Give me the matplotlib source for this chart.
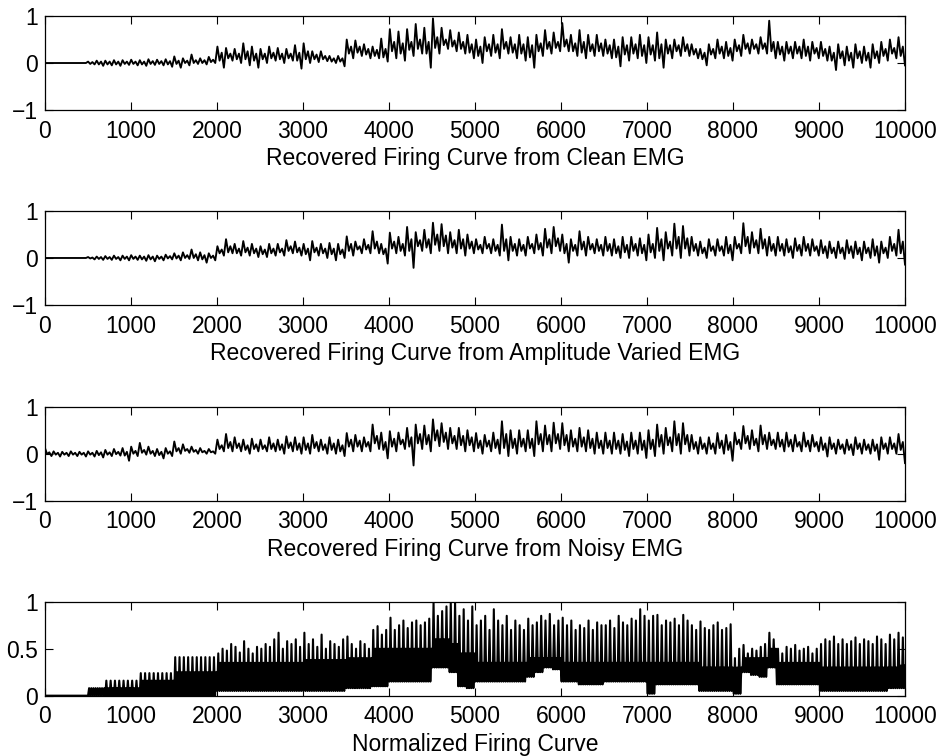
import numpy as np
import matplotlib
matplotlib.use("Agg")
import matplotlib.pyplot as plt

plt.rcParams["font.family"] = ["Liberation Sans", "DejaVu Sans"]
plt.rcParams["font.size"] = 16.5

# samples 0..10000, read per 100-sample bin:
# *_hi / *_lo = extremes, *_chi / *_clo = the dense core of the trace
clean_hi = [0, 0, 0, 0, 0, 0.03, 0.05, 0.05, 0.06, 0.06,
            0.07, 0.06, 0.08, 0.07, 0.08, 0.14, 0.1, 0.18, 0.1, 0.13,
            0.35, 0.32, 0.3, 0.42, 0.35, 0.3, 0.35, 0.32, 0.3, 0.38,
            0.42, 0.25, 0.25, 0.15, 0.15, 0.5, 0.48, 0.4, 0.35, 0.52,
            0.72, 0.67, 0.72, 0.83, 0.75, 0.95, 0.75, 0.7, 0.65, 0.6,
            0.5, 0.55, 0.6, 0.72, 0.55, 0.6, 0.55, 0.6, 0.7, 0.65,
            0.85, 0.6, 0.7, 0.6, 0.6, 0.5, 0.5, 0.55, 0.55, 0.6,
            0.55, 0.65, 0.5, 0.5, 0.55, 0.4, 0.3, 0.4, 0.5, 0.45,
            0.5, 0.6, 0.5, 0.55, 0.9, 0.45, 0.45, 0.45, 0.5, 0.45,
            0.45, 0.35, 0.4, 0.35, 0.4, 0.35, 0.4, 0.45, 0.5, 0.55]
clean_lo = [0, 0, 0, 0, 0, -0.03, -0.06, -0.05, -0.06, -0.04,
            -0.05, -0.06, -0.04, -0.05, -0.08, -0.1, -0.05, -0.02, -0.03, 0.0,
            -0.1, 0.05, 0.0, -0.05, -0.1, 0.0, 0.05, 0.0, 0.05, -0.12,
            0.0, 0.02, 0.04, 0.0, -0.07, 0.1, 0.15, 0.1, 0.1, 0.03,
            0.1, 0.05, 0.15, 0.2, -0.1, 0.2, 0.3, 0.25, 0.2, 0.1,
            0.0, 0.15, 0.1, 0.2, 0.1, 0.05, -0.1, 0.15, 0.2, 0.25,
            0.25, 0.15, 0.1, 0.15, 0.15, 0.1, -0.07, 0.05, 0.1, 0.0,
            0.05, -0.1, 0.1, 0.15, 0.15, 0.1, -0.05, 0.1, 0.1, 0.05,
            0.15, 0.2, 0.2, 0.2, 0.1, 0.05, 0.1, 0.1, 0.05, 0.1,
            0.05, -0.15, -0.05, -0.1, 0.0, -0.1, 0.0, 0.05, 0.1, -0.05]
clean_chi = [0, 0, 0, 0, 0, 0.02, 0.03, 0.03, 0.03, 0.03,
             0.03, 0.03, 0.04, 0.04, 0.04, 0.05, 0.05, 0.06, 0.06, 0.07,
             0.22, 0.2, 0.2, 0.25, 0.2, 0.2, 0.22, 0.2, 0.2, 0.22,
             0.25, 0.18, 0.15, 0.1, 0.1, 0.35, 0.35, 0.3, 0.28, 0.3,
             0.45, 0.42, 0.45, 0.5, 0.45, 0.55, 0.5, 0.48, 0.45, 0.4,
             0.35, 0.4, 0.4, 0.45, 0.4, 0.4, 0.38, 0.42, 0.45, 0.45,
             0.5, 0.42, 0.45, 0.4, 0.42, 0.38, 0.35, 0.38, 0.4, 0.38,
             0.38, 0.4, 0.38, 0.38, 0.4, 0.3, 0.22, 0.3, 0.35, 0.32,
             0.38, 0.42, 0.4, 0.42, 0.45, 0.35, 0.35, 0.35, 0.35, 0.32,
             0.3, 0.22, 0.25, 0.22, 0.25, 0.22, 0.25, 0.3, 0.32, 0.35]
clean_clo = [0, 0, 0, 0, 0, -0.02, -0.03, -0.03, -0.03, -0.02,
             -0.02, -0.03, -0.02, -0.02, -0.03, -0.02, 0.0, 0.0, 0.0, 0.02,
             0.05, 0.1, 0.08, 0.08, 0.05, 0.08, 0.1, 0.08, 0.1, 0.05,
             0.08, 0.08, 0.08, 0.03, 0.03, 0.2, 0.22, 0.18, 0.15, 0.12,
             0.25, 0.2, 0.28, 0.3, 0.2, 0.32, 0.38, 0.35, 0.3, 0.22,
             0.15, 0.25, 0.22, 0.3, 0.22, 0.2, 0.12, 0.25, 0.3, 0.32,
             0.35, 0.25, 0.22, 0.25, 0.25, 0.2, 0.12, 0.18, 0.2, 0.15,
             0.18, 0.1, 0.2, 0.25, 0.25, 0.18, 0.08, 0.18, 0.2, 0.15,
             0.25, 0.3, 0.3, 0.3, 0.25, 0.18, 0.2, 0.2, 0.15, 0.2,
             0.15, 0.05, 0.1, 0.05, 0.1, 0.05, 0.1, 0.15, 0.2, 0.15]

ampvar_hi = [0, 0, 0, 0, 0, 0.02, 0.03, 0.04, 0.05, 0.05,
             0.06, 0.05, 0.06, 0.05, 0.07, 0.1, 0.12, 0.18, 0.12, 0.1,
             0.25, 0.4, 0.3, 0.36, 0.3, 0.25, 0.3, 0.3, 0.38, 0.35,
             0.3, 0.36, 0.3, 0.32, 0.3, 0.46, 0.35, 0.4, 0.57, 0.3,
             0.54, 0.45, 0.66, 0.55, 0.6, 0.75, 0.72, 0.55, 0.6, 0.5,
             0.4, 0.45, 0.4, 0.71, 0.45, 0.4, 0.45, 0.5, 0.62, 0.66,
             0.5, 0.4, 0.57, 0.45, 0.4, 0.45, 0.4, 0.45, 0.45, 0.42,
             0.5, 0.64, 0.55, 0.73, 0.68, 0.45, 0.35, 0.4, 0.4, 0.45,
             0.45, 0.74, 0.55, 0.62, 0.45, 0.45, 0.4, 0.42, 0.45, 0.4,
             0.38, 0.35, 0.35, 0.38, 0.35, 0.35, 0.4, 0.35, 0.45, 0.6]
ampvar_lo = [0, 0, 0, 0, 0, -0.03, -0.04, -0.04, -0.05, -0.05,
             -0.04, -0.06, -0.07, -0.05, -0.03, -0.05, -0.02, -0.05, -0.1, -0.05,
             0.05, 0.1, 0.05, 0.05, 0.02, 0.02, 0.05, 0.05, 0.1, 0.05,
             -0.05, 0.05, 0.0, -0.05, 0.0, 0.05, 0.1, 0.1, 0.1, -0.12,
             0.1, 0.05, -0.21, 0.15, 0.1, 0.15, 0.1, 0.1, 0.05, 0.1,
             0.1, 0.1, 0.05, -0.05, 0.05, 0.05, 0.1, 0.05, 0.1, 0.15,
             -0.1, 0.05, 0.05, 0.1, 0.05, 0.05, 0.0, 0.0, 0.05, -0.05,
             0.0, -0.05, 0.05, 0.0, 0.05, 0.05, 0.0, 0.05, 0.05, -0.05,
             0.1, 0.1, 0.1, 0.05, 0.05, 0.05, 0.0, 0.05, 0.05, 0.05,
             0.0, 0.0, -0.02, 0.0, -0.05, 0.0, -0.1, 0.0, 0.05, -0.14]
ampvar_chi = [0, 0, 0, 0, 0, 0.01, 0.02, 0.02, 0.02, 0.03,
              0.03, 0.03, 0.03, 0.03, 0.04, 0.05, 0.06, 0.08, 0.06, 0.05,
              0.18, 0.25, 0.2, 0.22, 0.2, 0.18, 0.2, 0.2, 0.25, 0.22,
              0.2, 0.22, 0.2, 0.2, 0.18, 0.3, 0.25, 0.28, 0.35, 0.2,
              0.35, 0.3, 0.4, 0.38, 0.4, 0.5, 0.48, 0.38, 0.4, 0.35,
              0.28, 0.3, 0.28, 0.4, 0.3, 0.28, 0.3, 0.32, 0.4, 0.42,
              0.3, 0.28, 0.35, 0.3, 0.28, 0.3, 0.25, 0.28, 0.3, 0.28,
              0.3, 0.4, 0.35, 0.45, 0.42, 0.3, 0.22, 0.25, 0.25, 0.28,
              0.3, 0.45, 0.38, 0.4, 0.3, 0.3, 0.25, 0.28, 0.3, 0.25,
              0.25, 0.22, 0.22, 0.25, 0.22, 0.22, 0.25, 0.22, 0.3, 0.35]
ampvar_clo = [0, 0, 0, 0, 0, -0.01, -0.02, -0.02, -0.02, -0.02,
              -0.02, -0.03, -0.03, -0.02, -0.01, -0.01, 0.0, 0.0, -0.03, 0.0,
              0.1, 0.12, 0.1, 0.12, 0.1, 0.08, 0.1, 0.12, 0.15, 0.12,
              0.08, 0.12, 0.1, 0.08, 0.08, 0.15, 0.18, 0.18, 0.2, 0.08,
              0.2, 0.15, 0.15, 0.25, 0.22, 0.28, 0.25, 0.22, 0.2, 0.2,
              0.18, 0.2, 0.15, 0.15, 0.15, 0.15, 0.2, 0.18, 0.22, 0.25,
              0.1, 0.15, 0.18, 0.18, 0.15, 0.15, 0.1, 0.12, 0.15, 0.1,
              0.12, 0.15, 0.2, 0.2, 0.2, 0.15, 0.1, 0.15, 0.15, 0.1,
              0.2, 0.25, 0.22, 0.2, 0.15, 0.15, 0.12, 0.15, 0.15, 0.15,
              0.1, 0.1, 0.1, 0.1, 0.08, 0.1, 0.05, 0.1, 0.15, 0.1]

noisy_hi = [0.12, 0.05, 0.04, 0.05, 0.04, 0.05, 0.06, 0.08, 0.1, 0.12,
            0.15, 0.23, 0.15, 0.1, 0.12, 0.26, 0.2, 0.15, 0.12, 0.1,
            0.3, 0.42, 0.35, 0.3, 0.32, 0.3, 0.35, 0.3, 0.37, 0.35,
            0.35, 0.4, 0.3, 0.35, 0.3, 0.44, 0.4, 0.35, 0.62, 0.45,
            0.48, 0.45, 0.55, 0.62, 0.6, 0.73, 0.65, 0.55, 0.55, 0.5,
            0.44, 0.4, 0.45, 0.69, 0.5, 0.5, 0.5, 0.69, 0.6, 0.66,
            0.65, 0.5, 0.55, 0.5, 0.45, 0.45, 0.45, 0.42, 0.45, 0.45,
            0.5, 0.62, 0.55, 0.69, 0.65, 0.4, 0.35, 0.35, 0.44, 0.4,
            0.45, 0.59, 0.5, 0.6, 0.45, 0.45, 0.45, 0.4, 0.45, 0.4,
            0.35, 0.35, 0.3, 0.3, 0.35, 0.3, 0.3, 0.35, 0.35, 0.42]
noisy_lo = [-0.05, -0.06, -0.05, -0.05, -0.06, -0.06, -0.08, -0.05, -0.04, -0.15,
            -0.05, -0.02, -0.05, -0.1, -0.05, 0.0, 0.02, 0.0, 0.0, 0.0,
            0.05, 0.05, 0.05, 0.0, 0.05, 0.05, 0.05, 0.0, 0.05, 0.0,
            0.0, 0.05, 0.0, 0.0, -0.05, 0.05, 0.05, 0.05, 0.1, -0.1,
            0.05, 0.1, -0.25, 0.1, 0.05, 0.16, 0.1, 0.1, 0.05, 0.05,
            0.0, 0.05, 0.0, -0.05, 0.0, 0.05, -0.05, 0.05, 0.05, 0.1,
            0.05, 0.05, 0.05, 0.0, 0.0, 0.0, 0.0, -0.05, 0.0, -0.09,
            -0.05, 0.0, 0.05, 0.0, 0.05, 0.0, 0.0, 0.0, 0.0, -0.15,
            0.1, 0.1, 0.05, 0.1, 0.1, 0.05, 0.05, 0.05, 0.05, 0.05,
            -0.06, 0.0, 0.0, -0.03, 0.0, 0.0, -0.13, 0.0, 0.0, -0.2]
noisy_chi = [0.03, 0.02, 0.02, 0.02, 0.02, 0.02, 0.03, 0.03, 0.04, 0.04,
             0.06, 0.08, 0.06, 0.04, 0.05, 0.12, 0.1, 0.08, 0.06, 0.05,
             0.18, 0.25, 0.22, 0.18, 0.2, 0.18, 0.22, 0.2, 0.24, 0.22,
             0.22, 0.25, 0.2, 0.22, 0.18, 0.3, 0.28, 0.25, 0.38, 0.25,
             0.32, 0.3, 0.35, 0.42, 0.4, 0.5, 0.45, 0.38, 0.38, 0.35,
             0.28, 0.28, 0.3, 0.42, 0.32, 0.32, 0.32, 0.42, 0.4, 0.42,
             0.4, 0.32, 0.35, 0.32, 0.28, 0.28, 0.28, 0.26, 0.28, 0.28,
             0.3, 0.4, 0.35, 0.42, 0.4, 0.25, 0.22, 0.22, 0.28, 0.25,
             0.3, 0.38, 0.32, 0.4, 0.3, 0.3, 0.3, 0.25, 0.28, 0.25,
             0.22, 0.22, 0.2, 0.2, 0.22, 0.2, 0.2, 0.22, 0.22, 0.25]
noisy_clo = [-0.01, -0.02, -0.02, -0.02, -0.02, -0.02, -0.03, -0.02, -0.01, -0.04,
             0.0, 0.02, 0.0, -0.03, 0.0, 0.05, 0.06, 0.04, 0.03, 0.03,
             0.1, 0.12, 0.12, 0.08, 0.1, 0.1, 0.1, 0.08, 0.12, 0.08,
             0.08, 0.12, 0.08, 0.08, 0.05, 0.15, 0.15, 0.15, 0.22, 0.08,
             0.15, 0.2, 0.15, 0.22, 0.2, 0.28, 0.25, 0.22, 0.18, 0.18,
             0.12, 0.15, 0.12, 0.12, 0.12, 0.15, 0.12, 0.2, 0.2, 0.22,
             0.18, 0.15, 0.15, 0.12, 0.12, 0.12, 0.1, 0.08, 0.1, 0.08,
             0.1, 0.15, 0.18, 0.18, 0.2, 0.1, 0.1, 0.1, 0.12, 0.08,
             0.2, 0.22, 0.18, 0.2, 0.18, 0.15, 0.15, 0.15, 0.15, 0.15,
             0.08, 0.1, 0.1, 0.08, 0.1, 0.08, 0.06, 0.1, 0.1, 0.08]

# normalized firing curve: band floor / band top per 100 samples, spikes per 50 samples
fire_floor = [0, 0, 0, 0, 0, 0, 0, 0, 0, 0,
              0, 0, 0, 0, 0, 0, 0, 0, 0, 0,
              0.05, 0.05, 0.05, 0.05, 0.05, 0.05, 0.05, 0.05, 0.05, 0.05,
              0.05, 0.05, 0.05, 0.05, 0.05, 0.08, 0.08, 0.08, 0.1, 0.1,
              0.15, 0.15, 0.15, 0.15, 0.15, 0.3, 0.3, 0.25, 0.1, 0.08,
              0.15, 0.15, 0.15, 0.15, 0.15, 0.15, 0.2, 0.25, 0.3, 0.28,
              0.15, 0.15, 0.12, 0.12, 0.12, 0.15, 0.15, 0.15, 0.15, 0.15,
              0.02, 0.12, 0.12, 0.12, 0.12, 0.12, 0.05, 0.05, 0.05, 0.05,
              0.02, 0.25, 0.22, 0.2, 0.3, 0.12, 0.12, 0.12, 0.12, 0.12,
              0.05, 0.05, 0.05, 0.05, 0.05, 0.05, 0.05, 0.05, 0.08, 0.08]
fire_top = [0, 0, 0, 0, 0, 0.08, 0.08, 0.08, 0.08, 0.08,
            0.08, 0.16, 0.16, 0.16, 0.16, 0.25, 0.25, 0.25, 0.25, 0.25,
            0.35, 0.35, 0.35, 0.35, 0.35, 0.35, 0.35, 0.35, 0.35, 0.35,
            0.38, 0.38, 0.38, 0.38, 0.38, 0.4, 0.4, 0.4, 0.5, 0.5,
            0.5, 0.5, 0.5, 0.5, 0.5, 0.6, 0.6, 0.55, 0.45, 0.45,
            0.35, 0.35, 0.35, 0.35, 0.35, 0.35, 0.4, 0.4, 0.4, 0.4,
            0.35, 0.35, 0.35, 0.35, 0.35, 0.35, 0.35, 0.35, 0.35, 0.35,
            0.35, 0.35, 0.35, 0.35, 0.35, 0.35, 0.3, 0.3, 0.3, 0.3,
            0.3, 0.4, 0.4, 0.4, 0.5, 0.35, 0.35, 0.35, 0.35, 0.35,
            0.3, 0.3, 0.3, 0.3, 0.3, 0.3, 0.3, 0.3, 0.3, 0.32]
fire_spike = [0, 0, 0, 0, 0, 0, 0, 0, 0, 0,
              0.08, 0.08, 0.08, 0.08, 0.16, 0.16, 0.16, 0.16, 0.16, 0.16,
              0.16, 0.16, 0.24, 0.24, 0.24, 0.24, 0.24, 0.24, 0.24, 0.24,
              0.41, 0.41, 0.41, 0.41, 0.41, 0.41, 0.41, 0.41, 0.41, 0.41,
              0.45, 0.5, 0.48, 0.55, 0.52, 0.46, 0.58, 0.5, 0.45, 0.52,
              0.5, 0.55, 0.52, 0.6, 0.67, 0.5, 0.58, 0.55, 0.6, 0.52,
              0.67, 0.55, 0.6, 0.52, 0.65, 0.5, 0.58, 0.55, 0.52, 0.6,
              0.63, 0.55, 0.5, 0.58, 0.55, 0.5, 0.7, 0.74, 0.65, 0.7,
              0.83, 0.7, 0.75, 0.8, 0.72, 0.78, 0.8, 0.75, 0.78, 0.82,
              1.0, 0.85, 0.9, 0.95, 1.0, 1.0, 0.85, 0.92, 0.8, 0.95,
              0.75, 0.8, 0.85, 0.7, 0.92, 0.8, 0.75, 0.85, 0.7, 0.8,
              0.75, 0.7, 0.82, 0.75, 0.78, 0.85, 0.8, 0.87, 0.75, 0.8,
              0.83, 0.75, 0.8, 0.7, 0.75, 0.72, 0.8, 0.7, 0.78, 0.75,
              0.75, 0.8, 0.72, 0.85, 0.78, 0.75, 0.82, 0.8, 0.92, 0.85,
              0.8, 0.85, 0.86, 0.75, 0.8, 0.78, 0.82, 0.75, 0.86, 0.8,
              0.75, 0.7, 0.79, 0.72, 0.7, 0.75, 0.78, 0.7, 0.72, 0.76,
              0.4, 0.5, 0.54, 0.45, 0.5, 0.48, 0.52, 0.55, 0.67, 0.6,
              0.5, 0.45, 0.52, 0.5, 0.54, 0.48, 0.5, 0.52, 0.45, 0.5,
              0.55, 0.6, 0.58, 0.63, 0.55, 0.6, 0.55, 0.58, 0.62, 0.55,
              0.6, 0.58, 0.55, 0.63, 0.6, 0.55, 0.65, 0.6, 0.67, 0.62]

x_ticks = np.arange(0, 10001, 1000)
titles = ["Recovered Firing Curve from Clean EMG",
          "Recovered Firing Curve from Amplitude Varied EMG",
          "Recovered Firing Curve from Noisy EMG",
          "Normalized Firing Curve"]

fig = plt.figure(figsize=(9.43, 7.56), dpi=100)
bottoms = [0.8545, 0.5966, 0.3377, 0.0798]
axes = [fig.add_axes([0.0477, b, 0.912, 0.1243]) for b in bottoms]


def trace(hi, lo, chi, clo):
    # four readings per bin: peak, core low, core high, trough
    y = np.column_stack([hi, clo, chi, lo]).ravel()
    x = np.linspace(0, 10000, len(y))
    return x, y


series = [(clean_hi, clean_lo, clean_chi, clean_clo),
          (ampvar_hi, ampvar_lo, ampvar_chi, ampvar_clo),
          (noisy_hi, noisy_lo, noisy_chi, noisy_clo)]
for ax, s in zip(axes[:3], series):
    x, y = trace(*s)
    ax.plot(x, y, color="black", lw=1.35)
    ax.set_ylim(-1, 1)
    ax.set_yticks([-1, 0, 1])
    ax.set_yticklabels(["\u22121", "0", "1"])

# bottom panel: per 50-sample step go floor -> spike -> floor -> band top
ax = axes[3]
fl = np.repeat(fire_floor, 2)
tp = np.repeat(fire_top, 2)
y4 = np.column_stack([fl, fire_spike, fl, tp]).ravel()
x4 = np.linspace(0, 10000, len(y4))
ax.plot(x4, y4, color="black", lw=1.5)
ax.set_ylim(0, 1)
ax.set_yticks([0, 0.5, 1])
ax.set_yticklabels(["0", "0.5", "1"])

for ax, t in zip(axes, titles):
    ax.set_xlim(0, 10000)
    ax.set_xticks(x_ticks)
    ax.set_xticklabels([str(v) for v in x_ticks])
    ax.tick_params(direction="in", length=6, width=0.8, top=True, right=True,
                   labelsize=16.5)
    ax.tick_params(axis="x", pad=7)
    ax.tick_params(axis="y", pad=5)
    ax.set_xlabel(t, fontsize=16.5, labelpad=3)
    for sp in ax.spines.values():
        sp.set_linewidth(0.9)

fig.savefig("out.png", dpi=100)
